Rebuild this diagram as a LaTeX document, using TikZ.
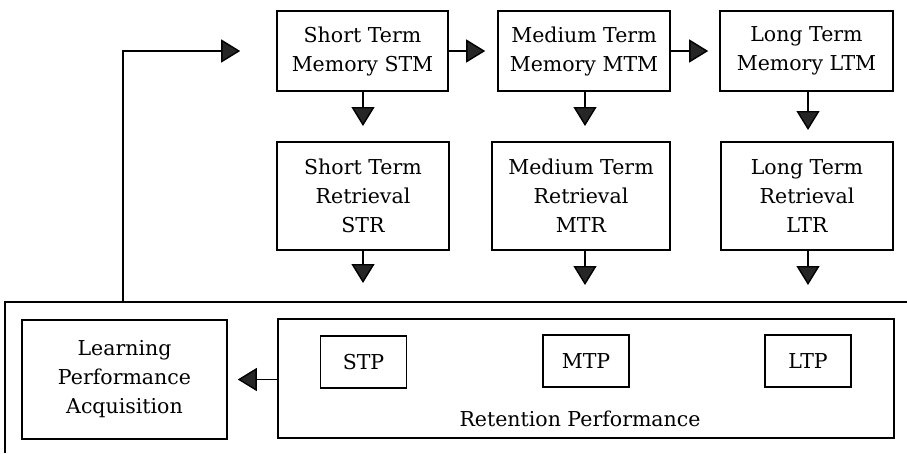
\documentclass[tikz,border=0pt]{standalone}
\usepackage{fontspec}
\setmainfont{DejaVu Serif}
\usetikzlibrary{arrows.meta}
\begin{document}
\begin{tikzpicture}[x=1pt,y=-1pt,
  every node/.style={font=\fontsize{20.5}{29}\selectfont,align=center,inner sep=0pt},
  box/.style={draw,line width=1.6pt,minimum height=80pt},
  pbox/.style={draw,line width=1.2pt,minimum width=86pt,minimum height=52pt},
  conn/.style={line width=1.4pt,-{Triangle[length=19pt,width=23pt,fill=black!85]}}]
  \useasboundingbox (0,0) rectangle (907,453);

  % memory stores
  \node[box,minimum width=171pt] (STM) at (362.5,51) {Short Term\\Memory STM};
  \node[box,minimum width=172pt] (MTM) at (584,51) {Medium Term\\Memory MTM};
  \node[box,minimum width=173pt] (LTM) at (806.5,51) {Long Term\\Memory LTM};

  % retrieval stages
  \node[box,minimum width=172pt,minimum height=108pt] (STR) at (363,196) {Short Term\\Retrieval\\STR};
  \node[box,minimum width=178pt,minimum height=108pt] (MTR) at (581,196) {Medium Term\\Retrieval\\MTR};
  \node[box,minimum width=172pt,minimum height=108pt] (LTR) at (807,196) {Long Term\\Retrieval\\LTR};

  % performance frame
  \coordinate (frameL) at (5,302);
  \coordinate (frameR) at (907,302);
  \coordinate (frameB) at (5,453);
  \draw[line width=1.6pt] (frameB) -- (frameL) -- (frameR);
  \coordinate (fb) at (123,302);

  \node[box,minimum width=205pt,minimum height=119pt] (LPA) at (124.5,379.5) {Learning\\Performance\\Acquisition};
  \node[box,minimum width=616pt,minimum height=119pt] (RP) at (586,378.5) {};
  \node (RPlabel) at (580,419) {Retention Performance};
  \node[pbox] (STP) at (363.5,362) {STP};
  \node[pbox] (MTP) at (586,361) {MTP};
  \node[pbox] (LTP) at (808,361) {LTP};

  % connectors
  \draw[conn,shorten >=12pt] (STM.east) -- (MTM.west);
  \draw[conn,shorten >=11pt] (MTM.east) -- (LTM.west);
  \draw[conn,shorten >=16pt] (363,91) -- (363,142);
  \draw[conn,shorten >=16pt] (MTM.south -| 585,0) -- (585,142);
  \draw[conn,shorten >=12pt] (LTM.south -| 808,0) -- (808,142);
  \draw[conn,shorten >=19pt] (STR.south) -- (STR.south |- frameL);
  \draw[conn,shorten >=17pt] (MTR.south -| 585,0) -- (585,302);
  \draw[conn,shorten >=17pt] (LTR.south -| 808,0) -- (808,302);
  \draw[conn,shorten >=10pt] (RP.west |- LPA.east) -- (LPA.east);
  \draw[conn,shorten >=36pt] (fb) |- (STM.west);
\end{tikzpicture}
\end{document}
